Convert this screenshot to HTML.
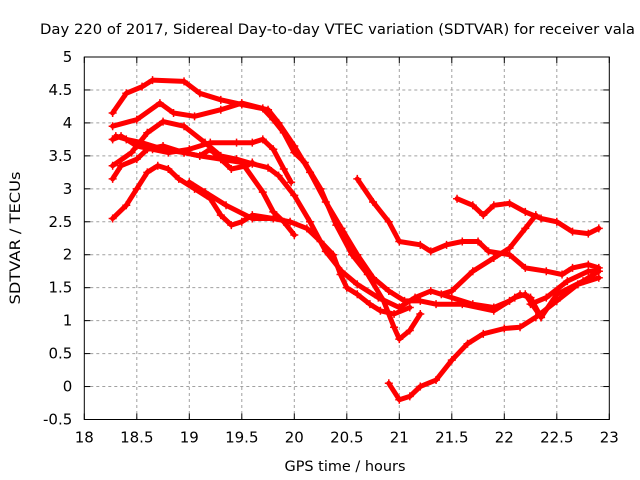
<!DOCTYPE html>
<html><head><meta charset="utf-8"><style>
html,body{margin:0;padding:0;background:#fff}
svg{display:block;font-family:"DejaVu Sans","Liberation Sans",sans-serif}
</style></head><body>
<svg id="chart" width="640" height="480" viewBox="0 0 640 480">
<text x="40" y="34" font-size="14" textLength="595" lengthAdjust="spacingAndGlyphs" fill="#000">Day 220 of 2017, Sidereal Day-to-day VTEC variation (SDTVAR) for receiver vala</text>
<text x="345" y="471" font-size="14" text-anchor="middle" textLength="121" lengthAdjust="spacingAndGlyphs">GPS time / hours</text>
<text transform="translate(20,238) rotate(-90)" font-size="14" text-anchor="middle" textLength="133" lengthAdjust="spacingAndGlyphs">SDTVAR / TECUs</text>
<g id="grid"></g>
<g id="series"></g>
<rect x="84.3" y="57" width="525" height="362.5" fill="none" stroke="#000" stroke-width="1"/>
<g id="ticks"></g>
</svg>
<script>
const xTicks = [18,18.5,19,19.5,20,20.5,21,21.5,22,22.5,23];
const xTickLabels = ["18","18.5","19","19.5","20","20.5","21","21.5","22","22.5","23"];
const yTicks = [-0.5,0,0.5,1,1.5,2,2.5,3,3.5,4,4.5,5];
const yTickLabels = ["-0.5","0","0.5","1","1.5","2","2.5","3","3.5","4","4.5","5"];

const s1x = [18.27,18.4,18.55,18.65,18.95,19.1,19.3,19.5,19.75,19.85,20.0,20.15,20.3,20.45,20.6,20.75,20.9,21.05,21.2,21.35,21.6,21.9,22.1,22.2,22.35,22.5,22.75,22.9];
const s1y = [4.15,4.45,4.55,4.65,4.63,4.45,4.35,4.28,4.2,4.0,3.65,3.25,2.8,2.4,2.0,1.65,1.45,1.3,1.3,1.25,1.25,1.15,1.35,1.4,1.05,1.4,1.6,1.75];
const s2x = [18.27,18.5,18.72,18.85,19.05,19.3,19.5,19.7,19.8,19.9,20.0,20.1,20.25,20.4,20.55,20.7,20.85,20.95,21.0,21.1,21.2];
const s2y = [3.95,4.05,4.3,4.15,4.1,4.2,4.3,4.22,4.05,3.85,3.55,3.4,3.0,2.45,2.0,1.7,1.3,0.9,0.72,0.85,1.1];
const s3x = [18.27,18.35,18.5,18.65,18.8,19.0,19.2,19.45,19.6,19.7,19.8,19.9,19.97];
const s3y = [3.75,3.8,3.65,3.6,3.55,3.6,3.7,3.7,3.7,3.75,3.6,3.3,3.1];
const s4x = [18.27,18.45,18.6,18.75,18.95,19.15,19.3,19.45,19.6,19.75,19.85,20.0,20.15,20.3,20.45,20.6,20.8,21.0,21.15,21.3,21.5,21.7,21.9,22.05,22.15,22.25,22.35];
const s4y = [3.35,3.55,3.85,4.02,3.95,3.7,3.5,3.45,3.38,3.32,3.2,2.9,2.5,2.05,1.75,1.55,1.35,1.2,1.35,1.45,1.35,1.25,1.2,1.3,1.4,1.35,1.05];
const s5x = [18.3,18.4,18.55,18.75,18.95,19.1,19.2,19.3,19.4,19.55,19.6];
const s5y = [3.8,3.75,3.7,3.6,3.55,3.5,3.6,3.45,3.3,3.35,3.4];
const s6x = [18.27,18.35,18.5,18.6,18.75,18.95,19.1,19.3,19.5,19.7,19.8,19.9,20.0];
const s6y = [3.15,3.35,3.45,3.6,3.65,3.55,3.5,3.45,3.4,2.95,2.65,2.5,2.3];
const s7x = [18.27,18.4,18.5,18.6,18.7,18.8,18.9,19.05,19.2,19.3,19.4,19.5,19.6,19.8,19.96,20.12,20.25,20.37,20.44,20.5,20.6,20.72,20.82,20.95,21.1];
const s7y = [2.55,2.75,3.0,3.25,3.35,3.3,3.15,3.0,2.85,2.6,2.45,2.5,2.6,2.55,2.5,2.4,2.2,2.0,1.7,1.5,1.4,1.25,1.15,1.1,1.2];
const s8x = [19.0,19.15,19.35,19.6,19.8];
const s8y = [3.1,2.95,2.75,2.55,2.55];
const r1x = [20.6,20.75,20.9,21.0,21.2,21.3,21.45,21.6,21.75,21.85,22.05,22.2,22.4,22.55,22.65,22.8,22.9];
const r1y = [3.15,2.8,2.5,2.2,2.15,2.05,2.15,2.2,2.2,2.05,2.0,1.8,1.75,1.7,1.8,1.85,1.8];
const r2x = [21.55,21.7,21.8,21.9,22.05,22.2,22.35,22.5,22.65,22.8,22.9];
const r2y = [2.85,2.75,2.6,2.75,2.78,2.65,2.55,2.5,2.35,2.32,2.4];
const r3x = [20.9,21.0,21.1,21.2,21.35,21.5,21.65,21.8,22.0,22.15,22.3,22.5,22.7,22.9];
const r3y = [0.05,-0.2,-0.15,0.0,0.1,0.4,0.65,0.8,0.88,0.9,1.05,1.3,1.55,1.65];
const r4x = [21.4,21.5,21.7,21.9,22.05,22.2,22.3];
const r4y = [1.4,1.45,1.75,1.95,2.1,2.4,2.6];
const r5x = [22.25,22.4,22.6,22.8,22.9];
const r5y = [1.25,1.35,1.6,1.75,1.75];

const seriesX = [s1x,s2x,s3x,s4x,s5x,s6x,s7x,s8x,r1x,r2x,r3x,r4x,r5x];
const seriesY = [s1y,s2y,s3y,s4y,s5y,s6y,s7y,s8y,r1y,r2y,r3y,r4y,r5y];

const L=84.3,R=609.3,T=57,B=419.5;
function xs(h){return L+(h-18)/5*(R-L);}
function ys(v){return B-(v+0.5)/5.5*(B-T);}
const NS="http://www.w3.org/2000/svg";
const grid=document.getElementById('grid'), ticks=document.getElementById('ticks'), ser=document.getElementById('series');
function mk(tag,attrs,parent){const e=document.createElementNS(NS,tag);for(const k in attrs)e.setAttribute(k,attrs[k]);parent.appendChild(e);return e;}
xTicks.forEach((t,i)=>{
  const x=xs(t);
  if(i>0&&i<xTicks.length-1){
    const g=mk('line',{x1:x,x2:x,y1:T,y2:B,stroke:'#a0a0a0','stroke-dasharray':'3,3','stroke-width':1},grid);
    
    
  }
  const a=mk('line',{x1:x,x2:x,y1:B,y2:B-6,stroke:'#000'},ticks);
  
  
  const b=mk('line',{x1:x,x2:x,y1:T,y2:T+6,stroke:'#000'},ticks);
  
  
  const tx=mk('text',{x:x,y:B+23,'font-size':15,'text-anchor':'middle'},ticks);
  tx.textContent=xTickLabels[i];
  
  
});
yTicks.forEach((t,i)=>{
  const y=ys(t);
  if(i>0&&i<yTicks.length-1){
    const g=mk('line',{x1:L,x2:R,y1:y,y2:y,stroke:'#a0a0a0','stroke-dasharray':'3,3','stroke-width':1},grid);
    
    
  }
  const a=mk('line',{x1:L,x2:L+6,y1:y,y2:y,stroke:'#000'},ticks);
  
  
  const b=mk('line',{x1:R,x2:R-6,y1:y,y2:y,stroke:'#000'},ticks);
  
  
  const tx=mk('text',{x:L-12,y:y+5,'font-size':15,'text-anchor':'end'},ticks);
  tx.textContent=yTickLabels[i];
  
  
});
seriesX.forEach((xa,si)=>{
  const ya=seriesY[si];
  const pts=xa.map((h,j)=>xs(h).toFixed(1)+','+ys(ya[j]).toFixed(1)).join(' ');
  const p=mk('polyline',{points:pts,fill:'none',stroke:'#ff0000','stroke-width':5,'stroke-linejoin':'round','stroke-linecap':'round'},ser);
  
  
  xa.forEach((h,j)=>{
    const cx=xs(h),cy=ys(ya[j]);
    const m=mk('path',{d:`M${cx-4},${cy}H${cx+4}M${cx},${cy-4}V${cy+4}`,stroke:'#ff0000','stroke-width':1.5},ser);
    
    
  });
});
</script>
</body></html>
